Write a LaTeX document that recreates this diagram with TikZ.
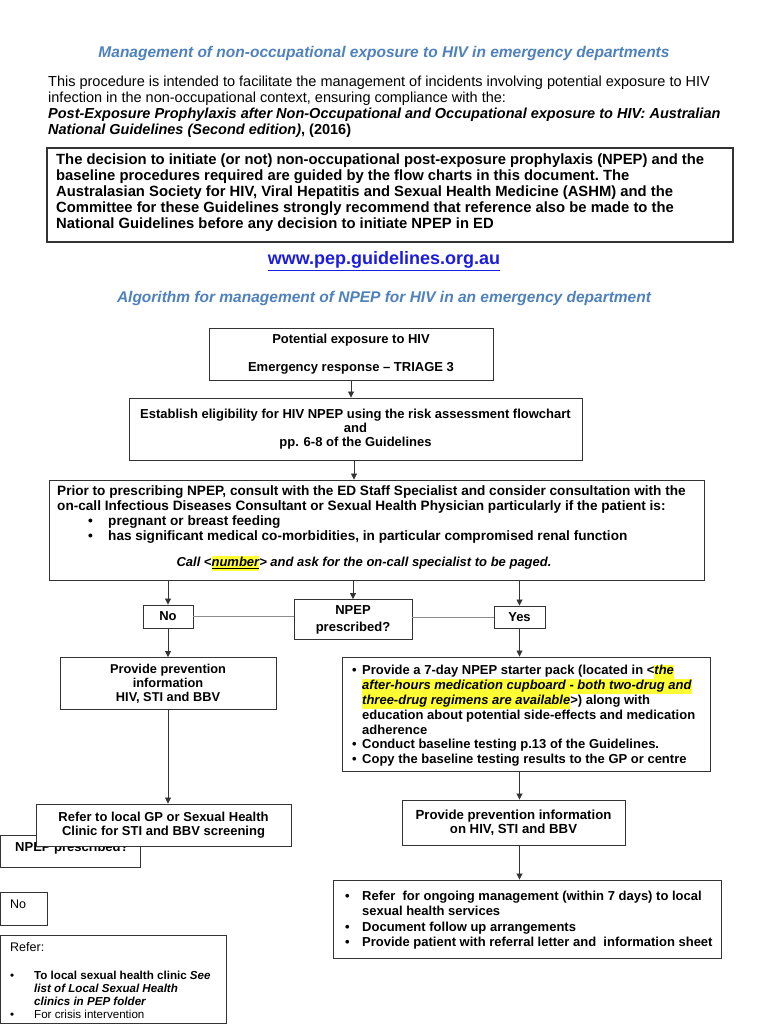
\documentclass[tikz,border=0pt]{standalone}
\usepackage{fontspec}
\setmainfont{Liberation Sans}
\usetikzlibrary{arrows.meta}
\definecolor{ttl}{HTML}{4F81BD}
\definecolor{urlc}{HTML}{1C1CE0}
\definecolor{hly}{HTML}{FFFF33}
\definecolor{edge}{HTML}{333333}
\newcommand{\hlt}[1]{{\setlength{\fboxsep}{0pt}\colorbox{hly}{\strut #1}}}
\newcommand{\bul}[1]{\makebox[#1][l]{\textbullet}}
\tikzset{
  box/.style={draw=edge, line width=0.9pt, fill=white, inner sep=0pt, align=center,
    font=\bfseries\fontsize{13}{14}\selectfont},
  txt/.style={inner sep=0pt, align=left},
  arr/.style={-{Triangle[length=6pt,width=6pt]}, line width=0.8pt, draw=edge},
  gline/.style={line width=1pt, draw=black!45},
}
\begin{document}
\begin{tikzpicture}[x=1pt,y=-1pt]
\useasboundingbox (0,0) rectangle (768,1024);
\fill[white] (0,0) rectangle (768,1024);

% header
\node[font=\bfseries\itshape\fontsize{15.5}{18}\selectfont, text=ttl] (title) at (384,53) {Management of non-occupational exposure to HIV in emergency departments};
\node[txt, anchor=north west, font=\fontsize{14.5}{16}\selectfont] (intro) at (48,75.6) {\strut This procedure is intended to facilitate the management of incidents involving potential exposure to HIV\\
infection in the non-occupational context, ensuring compliance with the:\\
\textbf{\textit{Post-Exposure Prophylaxis after Non-Occupational and Occupational exposure to HIV: Australian}}\\
\textbf{\textit{National Guidelines (Second edition)}, (2016)}};

\node[box, minimum width=686pt, minimum height=94pt, line width=1.2pt] (dec) at (390,195) {};
\node[txt, anchor=north west, font=\bfseries\fontsize{14.8}{16}\selectfont\frenchspacing] (dect) at (56,153.2) {\strut The decision to initiate (or not) non-occupational post-exposure prophylaxis (NPEP) and the\\
baseline procedures required are guided by the flow charts in this document. The\\
Australasian Society for HIV, Viral Hepatitis and Sexual Health Medicine (ASHM) and the\\
Committee for these Guidelines strongly recommend that reference also be made to the\\
National Guidelines before any decision to initiate NPEP in ED};

\node[font=\bfseries\fontsize{18}{20}\selectfont, text=urlc] (url) at (384,261) {\underline{www.pep.guidelines.org.au}};
\node[font=\bfseries\itshape\fontsize{15.5}{18}\selectfont, text=ttl] (sub) at (384,298) {Algorithm for management of NPEP for HIV in an emergency department};

% flow
\node[box, minimum width=284pt, minimum height=52pt] (A) at (351,354) {};
\node[anchor=center, align=center, inner sep=0pt, font=\bfseries\fontsize{13}{14}\selectfont] (At) at (351,354.5) {Potential exposure to HIV\\[14pt]Emergency response -- TRIAGE 3};
\node[box, minimum width=453pt, minimum height=62pt] (B) at (355.5,429) {Establish eligibility for HIV NPEP using the risk assessment flowchart\\and\\pp. 6-8 of the Guidelines};

\node[box, minimum width=655pt, minimum height=100pt] (C) at (376.5,530) {};
\node[txt, anchor=north west, font=\bfseries\fontsize{13.6}{14.7}\selectfont] (Ct) at (57,485.5) {\strut Prior to prescribing NPEP, consult with the ED Staff Specialist and consider consultation with the\\
on-call Infectious Diseases Consultant or Sexual Health Physician particularly if the patient is:\\
\hspace*{31pt}\bul{20pt}pregnant or breast feeding\\
\hspace*{31pt}\bul{20pt}has significant medical co-morbidities, in particular compromised renal function};
\node[anchor=base, inner sep=0pt, font=\bfseries\itshape\fontsize{13}{14.5}\selectfont] (call) at (364,566.5) {Call <\hlt{\underline{number}}> and ask for the on-call specialist to be paged.};

\node[box, minimum width=50pt, minimum height=23pt] (No) at (168,616.5) {No};
\node[box, minimum width=118pt, minimum height=40pt, font=\bfseries\fontsize{13}{17}\selectfont] (N) at (353,619.5) {NPEP\\prescribed?};
\node[box, minimum width=51pt, minimum height=22pt] (Yes) at (519.5,617) {Yes};

\node[box, minimum width=216pt, minimum height=52pt, font=\bfseries\fontsize{12.8}{14}\selectfont] (P) at (168,683.5) {Provide prevention\\information\\HIV, STI and BBV};

% partially hidden box
\node[box, minimum width=139.5pt, minimum height=32pt] (Nb) at (70.25,851) {};
\node[anchor=base west, inner sep=0pt, font=\bfseries\fontsize{13}{14}\selectfont] (Nbt) at (15,851.5) {NPEP prescribed?};
\node[box, minimum width=255pt, minimum height=42pt] (G) at (163.5,825) {Refer to local GP or Sexual Health\\Clinic for STI and BBV screening};

\node[box, minimum width=368pt, minimum height=114pt] (S) at (526,714) {};
\node[txt, anchor=north west, font=\bfseries\fontsize{13}{14.8}\selectfont] (St) at (352,664.3) {\strut\bul{10pt}Provide a 7-day NPEP starter pack (located in <\hlt{\textit{the}}\\
\hspace*{10pt}\hlt{\textit{after-hours medication cupboard - both two-drug and}}\\
\hspace*{10pt}\hlt{\textit{three-drug regimens are available}}>) along with\\
\hspace*{10pt}education about potential side-effects and medication\\
\hspace*{10pt}adherence\\
\bul{10pt}Conduct baseline testing p.13 of the Guidelines.\\
\bul{10pt}Copy the baseline testing results to the GP or centre};

\node[box, minimum width=223pt, minimum height=45pt, font=\bfseries\fontsize{13.2}{14}\selectfont] (R) at (513.5,822.5) {Provide prevention information\\on HIV, STI and BBV};

\node[box, minimum width=388pt, minimum height=78pt] (F) at (527,919) {};
\node[txt, anchor=north west, font=\bfseries\fontsize{13}{15.3}\selectfont] (Ft) at (345,889.6) {\strut\bul{17pt}Refer\ \ for ongoing management (within 7 days) to local\\
\hspace*{17pt}sexual health services\\
\bul{17pt}Document follow up arrangements\\
\bul{17pt}Provide patient with referral letter and\ \ information sheet};

\node[box, minimum width=46.5pt, minimum height=33pt] (No2) at (23.75,908.5) {};
\node[anchor=base west, inner sep=0pt, font=\fontsize{12.5}{14}\selectfont] (No2t) at (10,908.5) {No};

\node[box, minimum width=225.5pt, minimum height=88pt] (Rf) at (113.25,979) {};
\node[txt, anchor=north west, font=\fontsize{12.5}{14}\selectfont] (Rft) at (10,941.5) {\strut Refer:};
\node[txt, anchor=north west, font=\fontsize{11.6}{13}\selectfont] (Rfl) at (10,970) {\strut\bul{24pt}\textbf{To local sexual health clinic \textit{See}}\\
\hspace*{24pt}\textbf{\textit{list of Local Sexual Health}}\\
\hspace*{24pt}\textbf{\textit{clinics in PEP folder}}\\
\bul{24pt}For crisis intervention};

% connectors
\draw[arr] (A.south) -- (A.south |- B.north);
\draw[arr] (B.south -| 354,0) -- (C.north -| 354,0);
\draw[arr] (C.south -| No.north) -- (No.north);
\draw[arr] (C.south -| N.north) -- (N.north);
\draw[arr] (C.south -| Yes.north) -- (Yes.north);
\draw[gline] (No.east) -- (No.east -| N.west);
\draw[gline] (N.east |- Yes.west) -- (Yes.west);
\draw[arr] (No.south) -- (No.south |- P.north);
\draw[arr] (P.south) -- (P.south |- G.north);
\draw[arr] (Yes.south) -- (Yes.south |- S.north);
\draw[arr] (S.south -| Yes.south) -- (R.north -| Yes.south);
\draw[arr] (R.south -| Yes.south) -- (F.north -| Yes.south);
\end{tikzpicture}
\end{document}
